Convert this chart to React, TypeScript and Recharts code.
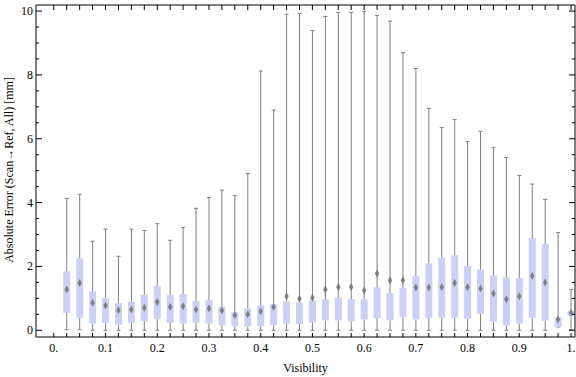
import React from 'react'
import { ComposedChart, Bar, Scatter, XAxis, YAxis } from 'recharts'

// box positions on the visibility axis
const visibility = [
  0.025, 0.05, 0.075, 0.1, 0.125, 0.15, 0.175, 0.2, 0.225, 0.25,
  0.275, 0.3, 0.325, 0.35, 0.375, 0.4, 0.425, 0.45, 0.475, 0.5,
  0.525, 0.55, 0.575, 0.6, 0.625, 0.65, 0.675, 0.7, 0.725, 0.75,
  0.775, 0.8, 0.825, 0.85, 0.875, 0.9, 0.925, 0.95, 0.975, 1.0,
]
const whiskerLow = [
  0.02, 0.02, 0, 0, 0, 0, 0, 0, 0, 0,
  0, 0, 0, 0, 0, 0, 0, 0, 0, 0,
  0, 0, 0, 0, 0, 0, 0, 0, 0, 0,
  0, 0, 0, 0, 0, 0, 0, 0, 0.1, 0.02,
]
const lowerQuartile = [
  0.54, 0.39, 0.21, 0.23, 0.17, 0.24, 0.29, 0.36, 0.23, 0.21,
  0.24, 0.21, 0.15, 0.13, 0.13, 0.13, 0.16, 0.21, 0.2, 0.24,
  0.31, 0.31, 0.28, 0.34, 0.38, 0.31, 0.41, 0.34, 0.39, 0.39,
  0.39, 0.36, 0.51, 0.27, 0.15, 0.21, 0.39, 0.3, 0.1, 0.44,
]
const meanError = [
  1.28, 1.48, 0.86, 0.78, 0.63, 0.65, 0.71, 0.89, 0.73, 0.75,
  0.65, 0.68, 0.62, 0.47, 0.5, 0.6, 0.73, 1.07, 0.99, 1.02,
  1.28, 1.36, 1.36, 1.25, 1.78, 1.57, 1.57, 1.34, 1.34, 1.36,
  1.48, 1.35, 1.31, 1.15, 0.97, 1.07, 1.71, 1.5, 0.34, 0.55,
]
const upperQuartile = [
  1.85, 2.25, 1.22, 1.01, 0.85, 0.89, 1.11, 1.39, 1.11, 1.14,
  0.92, 0.95, 0.73, 0.57, 0.69, 0.78, 0.82, 0.91, 0.88, 0.94,
  0.97, 1.03, 0.97, 0.97, 1.35, 1.17, 1.33, 1.7, 2.1, 2.27,
  2.35, 2.01, 1.91, 1.72, 1.66, 1.63, 2.89, 2.7, 0.41, 0.6,
]
const whiskerHigh = [
  4.13, 4.26, 2.79, 3.17, 2.32, 3.17, 3.13, 3.34, 2.82, 3.22,
  3.82, 4.16, 4.39, 4.22, 4.91, 8.12, 6.9, 9.9, 9.93, 9.39,
  9.83, 9.96, 9.96, 9.99, 9.86, 9.68, 8.7, 8.2, 6.95, 6.35,
  6.6, 5.91, 6.23, 5.73, 5.41, 4.85, 4.58, 4.1, 3.06, 1.28,
]

const xTickLabels = ['0.', '0.1', '0.2', '0.3', '0.4', '0.5', '0.6', '0.7', '0.8', '0.9', '1.']
const yTickLabels = ['0', '2', '4', '6', '8', '10']

const xTicks = Array.from({ length: 41 }, (_, i) => i / 40)
const yTicks = Array.from({ length: 21 }, (_, i) => i / 2)

// stacked pieces: invisible base, lower whisker, box, upper whisker
const table = visibility.map((v, i) => ({
  visibility: v,
  base: whiskerLow[i],
  lowW: lowerQuartile[i] - whiskerLow[i],
  box: upperQuartile[i] - lowerQuartile[i],
  highW: whiskerHigh[i] - upperQuartile[i],
  mean: meanError[i],
}))

const FONT = '"Liberation Serif", "DejaVu Serif", serif'
const WHISKER = '#7f7f7f'
const BOX = '#cad1f4'

const LowerWhisker = (props: any) => {
  const { x, y, width, height } = props
  const cx = x + width / 2
  return (
    <g>
      <line x1={cx} x2={cx} y1={y} y2={y + height} stroke={WHISKER} />
      <line x1={cx - 2} x2={cx + 2} y1={y + height} y2={y + height} stroke={WHISKER} />
    </g>
  )
}

const UpperWhisker = (props: any) => {
  const { x, y, width, height } = props
  const cx = x + width / 2
  return (
    <g>
      <line x1={cx} x2={cx} y1={y} y2={y + height} stroke={WHISKER} />
      <line x1={cx - 2} x2={cx + 2} y1={y} y2={y} stroke={WHISKER} />
    </g>
  )
}

const Diamond = (props: any) => {
  const { cx, cy } = props
  return (
    <path
      d={`M${cx},${cy - 4} L${cx + 2.2},${cy} L${cx},${cy + 4} L${cx - 2.2},${cy} Z`}
      fill="#777"
      fillOpacity={0.9}
    />
  )
}

const BottomTick = (props: any) => {
  const { x, y, payload } = props
  const k = Math.round(payload.value * 40)
  const label = k % 4 === 0 ? xTickLabels[k / 4] : null
  return (
    <g>
      <line x1={x} x2={x} y1={y} y2={y - 4} stroke="#000" />
      {label && (
        <text x={x} y={y + 15} textAnchor="middle" fontFamily={FONT} fontSize={12} fill="#000">
          {label}
        </text>
      )}
    </g>
  )
}

const TopTick = (props: any) => {
  const { x, y } = props
  return <line x1={x} x2={x} y1={y} y2={y + 5} stroke="#000" />
}

const LeftTick = (props: any) => {
  const { x, y, payload } = props
  const k = Math.round(payload.value * 2)
  const major = k % 4 === 0
  return (
    <g>
      <line x1={x} x2={x + (major ? 6 : 3)} y1={y} y2={y} stroke="#000" />
      {major && (
        <text x={x - 3} y={y + 4} textAnchor="end" fontFamily={FONT} fontSize={12} fill="#000">
          {yTickLabels[k / 4]}
        </text>
      )}
    </g>
  )
}

const RightTick = (props: any) => {
  const { x, y, payload } = props
  const major = Math.round(payload.value * 2) % 4 === 0
  return <line x1={x} x2={x - (major ? 6 : 3)} y1={y} y2={y} stroke="#000" />
}

const XTitle = () => (
  <text x={305.5} y={372} textAnchor="middle" fontFamily={FONT} fontSize={12} fill="#000">
    Visibility
  </text>
)

const YTitle = () => (
  <text
    x={13}
    y={170}
    transform="rotate(-90, 13, 170)"
    textAnchor="middle"
    fontFamily={FONT}
    fontSize={12}
    fill="#000"
  >
    Absolute Error (Scan→Ref, All) [mm]
  </text>
)

export default function App() {
  const xDomain = [-0.0344, 1.0077]
  const yDomain = [-0.21, 10.19]
  return (
    <div style={{ position: 'absolute', left: 0, top: 0, background: '#fff' }}>
      <ComposedChart
        width={576}
        height={377}
        data={table}
        margin={{ top: 4, right: 0, bottom: 0, left: 0 }}
      >
        <XAxis
          dataKey="visibility"
          type="number"
          domain={xDomain}
          allowDataOverflow
          ticks={xTicks}
          interval={0}
          height={40}
          tickSize={0}
          tickMargin={0}
          tickLine={false}
          tick={<BottomTick />}
          axisLine={{ stroke: '#000' }}
          label={XTitle}
        />
        <XAxis
          xAxisId="top"
          orientation="top"
          dataKey="visibility"
          type="number"
          domain={xDomain}
          allowDataOverflow
          ticks={xTicks}
          interval={0}
          height={1}
          tickSize={0}
          tickMargin={0}
          tickLine={false}
          tick={<TopTick />}
          axisLine={{ stroke: '#000' }}
        />
        <YAxis
          type="number"
          domain={yDomain}
          allowDataOverflow
          ticks={yTicks}
          interval={0}
          width={36}
          tickSize={0}
          tickMargin={0}
          tickLine={false}
          tick={<LeftTick />}
          axisLine={{ stroke: '#000' }}
          label={YTitle}
        />
        <YAxis
          yAxisId="right"
          orientation="right"
          type="number"
          domain={yDomain}
          allowDataOverflow
          ticks={yTicks}
          interval={0}
          width={1}
          tickSize={0}
          tickMargin={0}
          tickLine={false}
          tick={<RightTick />}
          axisLine={{ stroke: '#000' }}
        />
        <Bar dataKey="base" stackId="bw" fill="none" barSize={7} isAnimationActive={false} />
        <Bar dataKey="lowW" stackId="bw" barSize={7} shape={LowerWhisker} isAnimationActive={false} />
        <Bar dataKey="box" stackId="bw" fill={BOX} barSize={7} isAnimationActive={false} />
        <Bar dataKey="highW" stackId="bw" barSize={7} shape={UpperWhisker} isAnimationActive={false} />
        <Scatter dataKey="mean" shape={Diamond} isAnimationActive={false} />
      </ComposedChart>
    </div>
  )
}
